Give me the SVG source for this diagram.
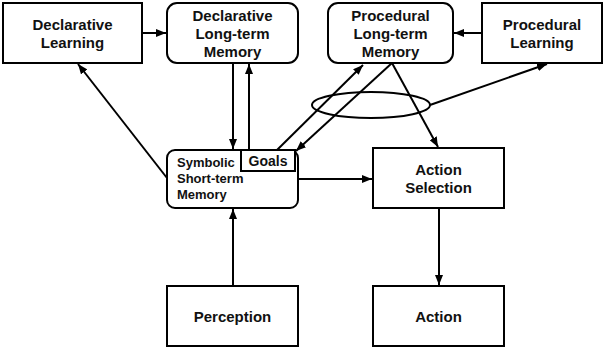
<svg xmlns="http://www.w3.org/2000/svg" width="605" height="348" viewBox="0 0 605 348">
<style>
.box{fill:#fff;stroke:#000;stroke-width:2}
.t{font-family:"Liberation Sans",Arial,sans-serif;font-weight:bold;font-size:15px;fill:#111;text-anchor:middle}
.s{font-family:"Liberation Sans",Arial,sans-serif;font-weight:bold;font-size:13px;fill:#111}
.c{fill:none;stroke:#000;stroke-width:2}
</style>
<defs>
<marker id="ah" viewBox="0 0 10 8" refX="10" refY="4" markerWidth="10" markerHeight="8" markerUnits="userSpaceOnUse" orient="auto">
<path d="M0,0 L10,4 L0,8 Z" fill="#000"/>
</marker>
</defs>
<g id="connectors">
<line class="c" x1="142" y1="33" x2="166" y2="33" marker-end="url(#ah)"/>
<line class="c" x1="482" y1="33" x2="454" y2="33" marker-end="url(#ah)"/>
<line class="c" x1="233" y1="63" x2="233" y2="149" marker-end="url(#ah)"/>
<line class="c" x1="249" y1="150" x2="249" y2="64" marker-end="url(#ah)"/>
<line class="c" x1="233" y1="286" x2="233" y2="209" marker-end="url(#ah)"/>
<line class="c" x1="439" y1="208" x2="439" y2="285" marker-end="url(#ah)"/>
<line class="c" x1="298" y1="179" x2="372" y2="179" marker-end="url(#ah)"/>
<line class="c" x1="167" y1="178" x2="78" y2="64" marker-end="url(#ah)"/>
<line class="c" x1="277" y1="150" x2="363" y2="65" marker-end="url(#ah)"/>
<line class="c" x1="392" y1="63" x2="296" y2="151" marker-end="url(#ah)"/>
<line class="c" x1="392" y1="63" x2="438" y2="147" marker-end="url(#ah)"/>
<ellipse class="c" cx="371" cy="105" rx="59" ry="13"/>
<line class="c" x1="430" y1="105" x2="547" y2="64" marker-end="url(#ah)"/>
</g>
<g id="declarative-learning">
<rect class="box" x="3" y="3" width="139" height="60"/>
<text class="t" x="72.5" y="30">Declarative</text>
<text class="t" x="72.5" y="48">Learning</text>
</g>
<g id="declarative-ltm">
<rect class="box" x="167" y="3" width="131" height="60" rx="10"/>
<text class="t" x="232.5" y="21">Declarative</text>
<text class="t" x="232.5" y="39">Long-term</text>
<text class="t" x="232.5" y="57">Memory</text>
</g>
<g id="procedural-ltm">
<rect class="box" x="328" y="3" width="125" height="60" rx="10"/>
<text class="t" x="390.5" y="21">Procedural</text>
<text class="t" x="390.5" y="39">Long-term</text>
<text class="t" x="390.5" y="57">Memory</text>
</g>
<g id="procedural-learning">
<rect class="box" x="482" y="3" width="120" height="60"/>
<text class="t" x="542" y="30">Procedural</text>
<text class="t" x="542" y="48">Learning</text>
</g>
<g id="symbolic-stm">
<rect class="box" x="167" y="150" width="131" height="58" rx="8"/>
<text class="s" x="177" y="167">Symbolic</text>
<text class="s" x="177" y="183">Short-term</text>
<text class="s" x="177" y="199">Memory</text>
</g>
<g id="goals">
<rect class="box" x="241" y="150" width="54" height="21"/>
<text class="t" x="268" y="166" style="font-size:14px">Goals</text>
</g>
<g id="action-selection">
<rect class="box" x="373" y="148" width="131" height="60"/>
<text class="t" x="438.5" y="175">Action</text>
<text class="t" x="438.5" y="193">Selection</text>
</g>
<g id="perception">
<rect class="box" x="167" y="286" width="131" height="60"/>
<text class="t" x="232.5" y="322">Perception</text>
</g>
<g id="action">
<rect class="box" x="373" y="286" width="131" height="60"/>
<text class="t" x="438.5" y="322">Action</text>
</g>
</svg>
